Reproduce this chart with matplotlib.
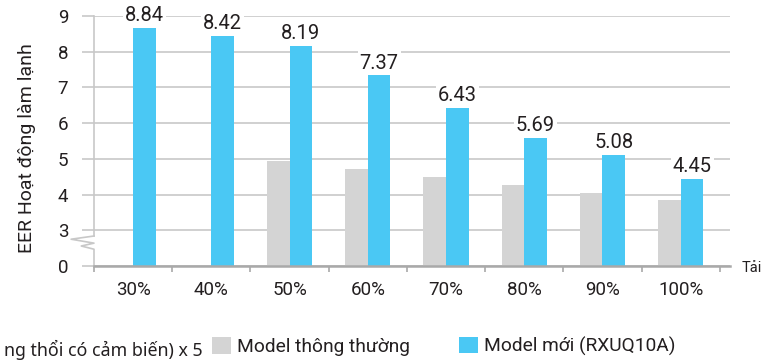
import numpy as np
import matplotlib
matplotlib.use("Agg")
import matplotlib.pyplot as plt
from matplotlib.patches import Patch

plt.rcParams['font.family'] = ['Roboto', 'DejaVu Sans']

# du lieu doc tu hinh
categories = ["30%", "40%", "50%", "60%", "70%", "80%", "90%", "100%"]
old_values = [np.nan, np.nan, 4.94, 4.73, 4.50, 4.27, 4.05, 3.85]
new_values = [8.66, 8.44, 8.16, 7.34, 6.43, 5.58, 5.12, 4.44]
new_labels = ["8.84", "8.42", "8.19", "7.37", "6.43", "5.69", "5.08", "4.45"]
ytick_values = [0, 3, 4, 5, 6, 7, 8, 9]

GRAY = "#D4D4D4"
BLUE = "#4AC8F4"
TEXT = "#231F20"
GRID = "#C8C8C8"
AXIS = "#A9A9A9"


def squeeze(v):
    # truc y bi cat: doan 0..3 chi chiem 1 don vi
    v = np.asarray(v, dtype=float)
    return np.where(v >= 3, v - 2, v / 3.0)


fig = plt.figure(figsize=(7.73, 3.6), dpi=100)
ax = fig.add_axes([94 / 773, 1 - 266 / 360, 636 / 773, 250 / 360])

x = np.arange(len(categories))
w = 0.29
ax.bar(x - w / 2, squeeze(old_values), width=w, color=GRAY, zorder=2)
bars = ax.bar(x + w / 2, squeeze(new_values), width=w, color=BLUE, zorder=2)

for rect, lbl in zip(bars, new_labels):
    ax.annotate(lbl, (rect.get_x() + rect.get_width() / 2, rect.get_height()),
                xytext=(0, 2), textcoords="offset points",
                ha="center", va="bottom", fontsize=14.5, color=TEXT,
                bbox=dict(boxstyle="square,pad=0.1", fc="white", ec="none"),
                annotation_clip=False, zorder=3)

ax.set_xlim(-0.5, 7.63)
ax.set_ylim(0, 7)

ax.set_yticks(squeeze(ytick_values))
ax.set_yticklabels([str(v) for v in ytick_values])
ax.tick_params(axis="y", length=8.6, width=1.2, color=GRID, direction="out",
               pad=10, labelsize=13.5, labelcolor=TEXT)
ax.yaxis.grid(True, color=GRID, lw=1.2, zorder=0)
ax.set_axisbelow(True)

ax.set_xticks(x)
ax.set_xticklabels(categories)
ax.set_xticks(np.arange(-0.5, 8, 1), minor=True)
ax.tick_params(axis="x", which="major", length=0, pad=11, labelsize=13.5,
               labelcolor=TEXT)
ax.tick_params(axis="x", which="minor", length=4.5, width=1.2, color=AXIS,
               direction="out")

for s in ["top", "right"]:
    ax.spines[s].set_visible(False)
ax.spines["bottom"].set_color(AXIS)
ax.spines["bottom"].set_linewidth(1.8)
ax.spines["left"].set_color(GRID)
ax.spines["left"].set_linewidth(1.2)
ax.spines["left"].set_bounds(0.84, 7)

# dau zigzag cat truc
ax.plot([0, -0.036, 0, -0.020, 0, 0], [0.84, 0.75, 0.64, 0.56, 0.47, 0],
        transform=ax.get_yaxis_transform(), color=GRID, lw=1.2, clip_on=False)

fig.text(27 / 773, 1 - 148 / 360, "EER Hoạt động làm lạnh", rotation=90,
         ha="center", va="center", fontsize=14, color=TEXT)
fig.text(742 / 773, 1 - 268 / 360, "Tải", ha="left", va="center",
         fontsize=10.5, color=TEXT)

fig.text(203 / 773, 1 - 356 / 360, "ng thổi có cảm biến) x 5",
         ha="right", va="baseline", fontsize=12.8,
         family=["Noto Sans", "DejaVu Sans"], color=TEXT)

for xpos, col, name in [(212, GRAY, "Model thông thường"),
                        (459, BLUE, "Model mới (RXUQ10A)")]:
    fig.legend(handles=[Patch(fc=col, ec="none")], labels=[name],
               loc="center left", bbox_to_anchor=(xpos / 773, 1 - 346.5 / 360),
               frameon=False, borderpad=0, borderaxespad=0,
               handlelength=0.99, handleheight=0.94, handletextpad=0.31,
               fontsize=13.8, labelcolor=TEXT)

fig.savefig("out.png", dpi=100)
